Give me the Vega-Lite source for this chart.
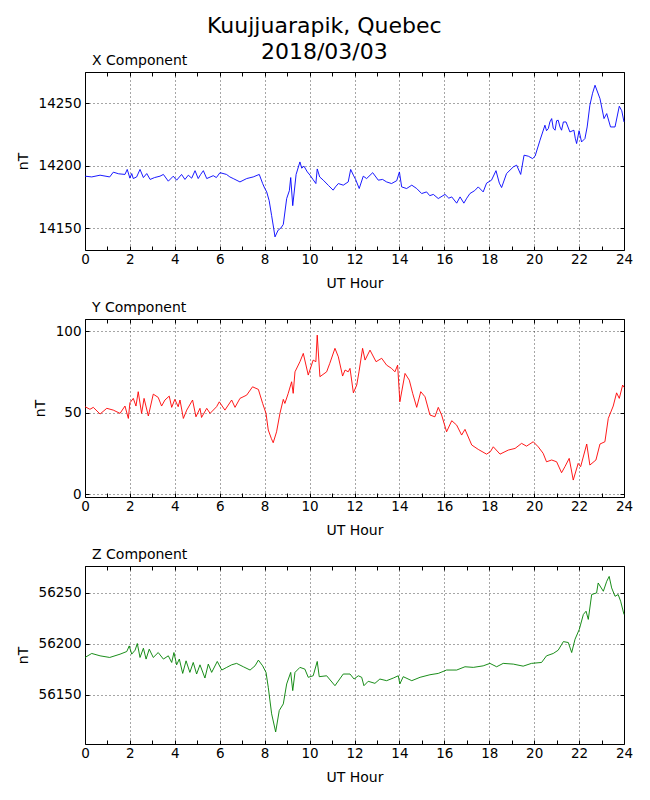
{
  "$schema": "https://vega.github.io/schema/vega-lite/v6.json",
  "padding": {"left": 15, "top": 15, "right": 10, "bottom": 5},
  "title": {
    "text": ["Kuujjuarapik, Quebec", "2018/03/03"],
    "fontSize": 22,
    "lineHeight": 26,
    "fontWeight": "normal",
    "anchor": "middle",
    "offset": -11
  },
  "datasets": {
    "xc": [
      {"h": 0.0, "v": 14191.6}, {"h": 0.3, "v": 14191}, {"h": 0.67, "v": 14192.4}, {"h": 1.1, "v": 14191},
      {"h": 1.26, "v": 14194.8}, {"h": 1.5, "v": 14193.5}, {"h": 1.78, "v": 14193}, {"h": 1.88, "v": 14197},
      {"h": 2.0, "v": 14190}, {"h": 2.08, "v": 14193.7}, {"h": 2.15, "v": 14189.7}, {"h": 2.3, "v": 14191},
      {"h": 2.45, "v": 14197}, {"h": 2.6, "v": 14190.5}, {"h": 2.75, "v": 14193.7}, {"h": 2.9, "v": 14189},
      {"h": 3.1, "v": 14190.5}, {"h": 3.34, "v": 14191.6}, {"h": 3.49, "v": 14193}, {"h": 3.71, "v": 14187.6},
      {"h": 3.93, "v": 14191.6}, {"h": 4.08, "v": 14188.4}, {"h": 4.3, "v": 14193}, {"h": 4.45, "v": 14189},
      {"h": 4.6, "v": 14192.4}, {"h": 4.75, "v": 14190}, {"h": 4.9, "v": 14196}, {"h": 5.04, "v": 14189.7},
      {"h": 5.15, "v": 14193}, {"h": 5.27, "v": 14196}, {"h": 5.42, "v": 14189.7}, {"h": 5.71, "v": 14192},
      {"h": 5.85, "v": 14190.5}, {"h": 6.01, "v": 14194.4}, {"h": 6.3, "v": 14193}, {"h": 6.45, "v": 14191},
      {"h": 6.6, "v": 14189.7}, {"h": 6.9, "v": 14187}, {"h": 7.2, "v": 14189.7}, {"h": 7.49, "v": 14191},
      {"h": 7.76, "v": 14193}, {"h": 7.91, "v": 14185.7}, {"h": 8.0, "v": 14182}, {"h": 8.09, "v": 14179},
      {"h": 8.2, "v": 14172}, {"h": 8.31, "v": 14160}, {"h": 8.4, "v": 14150}, {"h": 8.46, "v": 14143},
      {"h": 8.6, "v": 14148.4}, {"h": 8.72, "v": 14150}, {"h": 8.83, "v": 14153}, {"h": 8.98, "v": 14173.7},
      {"h": 9.1, "v": 14180}, {"h": 9.16, "v": 14190.5}, {"h": 9.25, "v": 14168}, {"h": 9.4, "v": 14193},
      {"h": 9.57, "v": 14203}, {"h": 9.65, "v": 14198}, {"h": 9.75, "v": 14199.6}, {"h": 9.9, "v": 14195},
      {"h": 10.02, "v": 14192.4}, {"h": 10.15, "v": 14189}, {"h": 10.28, "v": 14185.7}, {"h": 10.34, "v": 14197.4},
      {"h": 10.45, "v": 14191}, {"h": 10.61, "v": 14188.4}, {"h": 10.85, "v": 14184}, {"h": 11.05, "v": 14180.4},
      {"h": 11.15, "v": 14183}, {"h": 11.28, "v": 14185.7}, {"h": 11.5, "v": 14184.4}, {"h": 11.72, "v": 14187},
      {"h": 11.83, "v": 14197}, {"h": 11.95, "v": 14192.4}, {"h": 12.05, "v": 14189}, {"h": 12.21, "v": 14181.7},
      {"h": 12.39, "v": 14191.6}, {"h": 12.54, "v": 14189.7}, {"h": 12.81, "v": 14194.4}, {"h": 13.06, "v": 14188.4},
      {"h": 13.25, "v": 14189}, {"h": 13.43, "v": 14187}, {"h": 13.65, "v": 14185.7}, {"h": 13.88, "v": 14188},
      {"h": 14.0, "v": 14195}, {"h": 14.1, "v": 14183}, {"h": 14.32, "v": 14181.7}, {"h": 14.55, "v": 14184.4},
      {"h": 14.77, "v": 14181.7}, {"h": 14.99, "v": 14177.7}, {"h": 15.21, "v": 14179}, {"h": 15.35, "v": 14176},
      {"h": 15.51, "v": 14177}, {"h": 15.73, "v": 14173.7}, {"h": 16.03, "v": 14177}, {"h": 16.2, "v": 14174},
      {"h": 16.33, "v": 14175}, {"h": 16.55, "v": 14170}, {"h": 16.7, "v": 14175}, {"h": 16.87, "v": 14170},
      {"h": 17.0, "v": 14174}, {"h": 17.14, "v": 14177.7}, {"h": 17.35, "v": 14180}, {"h": 17.51, "v": 14183},
      {"h": 17.73, "v": 14179}, {"h": 17.88, "v": 14186}, {"h": 18.1, "v": 14188.4}, {"h": 18.3, "v": 14196},
      {"h": 18.45, "v": 14186}, {"h": 18.55, "v": 14182.5}, {"h": 18.77, "v": 14193.7}, {"h": 19.07, "v": 14199},
      {"h": 19.22, "v": 14200.4}, {"h": 19.4, "v": 14193}, {"h": 19.55, "v": 14208.4}, {"h": 19.74, "v": 14207.6},
      {"h": 19.93, "v": 14205.7}, {"h": 20.04, "v": 14207.6}, {"h": 20.26, "v": 14220.4}, {"h": 20.48, "v": 14232.4},
      {"h": 20.55, "v": 14228}, {"h": 20.63, "v": 14229.7}, {"h": 20.7, "v": 14235}, {"h": 20.78, "v": 14237.7},
      {"h": 20.85, "v": 14230}, {"h": 20.93, "v": 14228.4}, {"h": 21.0, "v": 14236}, {"h": 21.07, "v": 14236.4},
      {"h": 21.15, "v": 14231}, {"h": 21.22, "v": 14228.4}, {"h": 21.3, "v": 14235}, {"h": 21.42, "v": 14235},
      {"h": 21.59, "v": 14227}, {"h": 21.77, "v": 14228.4}, {"h": 21.83, "v": 14222}, {"h": 21.89, "v": 14217.7},
      {"h": 22.0, "v": 14228}, {"h": 22.11, "v": 14219}, {"h": 22.26, "v": 14221.7}, {"h": 22.36, "v": 14231},
      {"h": 22.48, "v": 14248.4}, {"h": 22.6, "v": 14258}, {"h": 22.71, "v": 14264.4}, {"h": 22.93, "v": 14253.7},
      {"h": 23.11, "v": 14237.7}, {"h": 23.23, "v": 14241.7}, {"h": 23.4, "v": 14231}, {"h": 23.6, "v": 14231},
      {"h": 23.79, "v": 14247.6}, {"h": 23.9, "v": 14244}, {"h": 24.0, "v": 14235}
    ],
    "yc": [
      {"h": 0.0, "v": 53.6}, {"h": 0.22, "v": 52}, {"h": 0.37, "v": 53.2}, {"h": 0.67, "v": 49.1},
      {"h": 0.97, "v": 52.6}, {"h": 1.26, "v": 51.5}, {"h": 1.56, "v": 49.5}, {"h": 1.78, "v": 54},
      {"h": 1.93, "v": 46.4}, {"h": 2.0, "v": 56}, {"h": 2.15, "v": 58.7}, {"h": 2.27, "v": 54},
      {"h": 2.37, "v": 62.8}, {"h": 2.52, "v": 49.5}, {"h": 2.63, "v": 58.7}, {"h": 2.82, "v": 47.9},
      {"h": 3.04, "v": 61.3}, {"h": 3.26, "v": 59.3}, {"h": 3.41, "v": 54}, {"h": 3.56, "v": 57.7},
      {"h": 3.75, "v": 60.1}, {"h": 3.86, "v": 53.2}, {"h": 4.0, "v": 58.1}, {"h": 4.15, "v": 53.6},
      {"h": 4.23, "v": 57.7}, {"h": 4.38, "v": 46.4}, {"h": 4.53, "v": 51.5}, {"h": 4.79, "v": 57.7},
      {"h": 4.94, "v": 47.4}, {"h": 5.12, "v": 52.6}, {"h": 5.19, "v": 47}, {"h": 5.42, "v": 52.6},
      {"h": 5.57, "v": 49.5}, {"h": 5.86, "v": 53.6}, {"h": 5.98, "v": 56.6}, {"h": 6.23, "v": 51.5},
      {"h": 6.53, "v": 57.7}, {"h": 6.68, "v": 53.2}, {"h": 6.9, "v": 58.7}, {"h": 7.2, "v": 60.7},
      {"h": 7.46, "v": 65.8}, {"h": 7.72, "v": 64.2}, {"h": 7.91, "v": 55.6}, {"h": 8.06, "v": 49.5},
      {"h": 8.16, "v": 39.3}, {"h": 8.3, "v": 34}, {"h": 8.38, "v": 31.5}, {"h": 8.53, "v": 38.2},
      {"h": 8.68, "v": 49.5}, {"h": 8.83, "v": 58.1}, {"h": 8.9, "v": 55.6}, {"h": 9.05, "v": 61.8},
      {"h": 9.2, "v": 68.9}, {"h": 9.27, "v": 61.8}, {"h": 9.35, "v": 75}, {"h": 9.57, "v": 81.2},
      {"h": 9.72, "v": 86.3}, {"h": 9.94, "v": 73}, {"h": 10.16, "v": 82.2}, {"h": 10.28, "v": 81.2},
      {"h": 10.34, "v": 97.5}, {"h": 10.46, "v": 72}, {"h": 10.76, "v": 75}, {"h": 10.9, "v": 80.2},
      {"h": 11.13, "v": 89.4}, {"h": 11.28, "v": 84.2}, {"h": 11.47, "v": 72.4}, {"h": 11.58, "v": 76.1},
      {"h": 11.72, "v": 75}, {"h": 11.8, "v": 77.1}, {"h": 11.95, "v": 62.1}, {"h": 12.1, "v": 66.9},
      {"h": 12.2, "v": 75}, {"h": 12.36, "v": 89.4}, {"h": 12.47, "v": 82.2}, {"h": 12.69, "v": 88.3},
      {"h": 12.96, "v": 81.2}, {"h": 13.21, "v": 83.3}, {"h": 13.43, "v": 79.1}, {"h": 13.65, "v": 77.1},
      {"h": 13.8, "v": 75}, {"h": 13.92, "v": 79.1}, {"h": 14.02, "v": 56.6}, {"h": 14.25, "v": 74},
      {"h": 14.44, "v": 69.9}, {"h": 14.59, "v": 61.8}, {"h": 14.77, "v": 53.2}, {"h": 14.95, "v": 62.8},
      {"h": 15.14, "v": 59.7}, {"h": 15.36, "v": 48.5}, {"h": 15.58, "v": 47.4}, {"h": 15.73, "v": 53.2},
      {"h": 15.88, "v": 48.5}, {"h": 16.1, "v": 38.2}, {"h": 16.33, "v": 45}, {"h": 16.55, "v": 42.3},
      {"h": 16.77, "v": 36.2}, {"h": 16.92, "v": 39.7}, {"h": 17.22, "v": 30.1}, {"h": 17.51, "v": 27.4},
      {"h": 17.88, "v": 24.5}, {"h": 18.05, "v": 26}, {"h": 18.18, "v": 29}, {"h": 18.48, "v": 24.5},
      {"h": 18.85, "v": 27}, {"h": 19.15, "v": 28}, {"h": 19.44, "v": 31.1}, {"h": 19.66, "v": 29.4},
      {"h": 19.96, "v": 32.1}, {"h": 20.18, "v": 29}, {"h": 20.4, "v": 25}, {"h": 20.55, "v": 19.8},
      {"h": 20.78, "v": 20.9}, {"h": 21.0, "v": 19.8}, {"h": 21.22, "v": 13.1}, {"h": 21.37, "v": 16.8},
      {"h": 21.56, "v": 21.9}, {"h": 21.74, "v": 8.6}, {"h": 21.96, "v": 18.8}, {"h": 22.07, "v": 16.8},
      {"h": 22.34, "v": 30.7}, {"h": 22.48, "v": 17.8}, {"h": 22.75, "v": 20.9}, {"h": 22.93, "v": 30.7},
      {"h": 23.15, "v": 32.1}, {"h": 23.3, "v": 46.4}, {"h": 23.52, "v": 54}, {"h": 23.67, "v": 62.1},
      {"h": 23.79, "v": 58.7}, {"h": 23.94, "v": 66.9}, {"h": 24.0, "v": 65.5}
    ],
    "zc": [
      {"h": 0.0, "v": 56186.6}, {"h": 0.3, "v": 56190.5}, {"h": 0.67, "v": 56188.2}, {"h": 1.1, "v": 56186.6},
      {"h": 1.56, "v": 56189.8}, {"h": 1.86, "v": 56192.4}, {"h": 1.97, "v": 56197.9}, {"h": 2.08, "v": 56189.8},
      {"h": 2.23, "v": 56193.7}, {"h": 2.33, "v": 56200.2}, {"h": 2.45, "v": 56186.6}, {"h": 2.6, "v": 56195.6},
      {"h": 2.72, "v": 56185}, {"h": 2.86, "v": 56194.7}, {"h": 3.04, "v": 56186.6}, {"h": 3.26, "v": 56191.4},
      {"h": 3.49, "v": 56185}, {"h": 3.71, "v": 56188.2}, {"h": 3.86, "v": 56181.7}, {"h": 3.96, "v": 56191.4},
      {"h": 4.08, "v": 56179.4}, {"h": 4.2, "v": 56185}, {"h": 4.35, "v": 56171}, {"h": 4.5, "v": 56183.3},
      {"h": 4.67, "v": 56172}, {"h": 4.82, "v": 56181.7}, {"h": 4.97, "v": 56170.4}, {"h": 5.12, "v": 56179.4},
      {"h": 5.34, "v": 56166.5}, {"h": 5.49, "v": 56180.1}, {"h": 5.64, "v": 56172}, {"h": 5.89, "v": 56182.7},
      {"h": 6.09, "v": 56174.3}, {"h": 6.31, "v": 56176.9}, {"h": 6.53, "v": 56179.4}, {"h": 6.75, "v": 56180.8},
      {"h": 7.05, "v": 56177.5}, {"h": 7.35, "v": 56174.3}, {"h": 7.57, "v": 56178.4}, {"h": 7.72, "v": 56184},
      {"h": 7.91, "v": 56178.4}, {"h": 8.06, "v": 56172}, {"h": 8.16, "v": 56157.5}, {"h": 8.31, "v": 56131.5},
      {"h": 8.49, "v": 56113.8}, {"h": 8.65, "v": 56134.7}, {"h": 8.83, "v": 56141.2}, {"h": 8.98, "v": 56160.7},
      {"h": 9.16, "v": 56172}, {"h": 9.25, "v": 56154.2}, {"h": 9.35, "v": 56172}, {"h": 9.57, "v": 56176.9},
      {"h": 9.79, "v": 56175.2}, {"h": 9.94, "v": 56167.2}, {"h": 10.16, "v": 56168.7}, {"h": 10.34, "v": 56182.7},
      {"h": 10.43, "v": 56167.8}, {"h": 10.76, "v": 56168.7}, {"h": 11.13, "v": 56159}, {"h": 11.5, "v": 56170.4},
      {"h": 11.8, "v": 56170.4}, {"h": 11.98, "v": 56165.5}, {"h": 12.17, "v": 56168.7}, {"h": 12.32, "v": 56167.2},
      {"h": 12.42, "v": 56159}, {"h": 12.61, "v": 56163.3}, {"h": 12.91, "v": 56161.3}, {"h": 13.13, "v": 56165.5},
      {"h": 13.43, "v": 56163.9}, {"h": 13.73, "v": 56166.5}, {"h": 13.95, "v": 56168.7}, {"h": 14.02, "v": 56160.7},
      {"h": 14.17, "v": 56167.8}, {"h": 14.55, "v": 56163.9}, {"h": 14.92, "v": 56167.2}, {"h": 15.36, "v": 56169.7},
      {"h": 15.73, "v": 56171}, {"h": 16.1, "v": 56174.3}, {"h": 16.55, "v": 56174.3}, {"h": 16.92, "v": 56177.5},
      {"h": 17.29, "v": 56176.9}, {"h": 17.73, "v": 56178.4}, {"h": 18.03, "v": 56180.8}, {"h": 18.33, "v": 56177.5},
      {"h": 18.62, "v": 56180.8}, {"h": 19.07, "v": 56180.1}, {"h": 19.51, "v": 56178.1}, {"h": 19.88, "v": 56180.8},
      {"h": 20.33, "v": 56181.7}, {"h": 20.55, "v": 56188.2}, {"h": 20.85, "v": 56190.5}, {"h": 21.07, "v": 56193.7},
      {"h": 21.3, "v": 56202.1}, {"h": 21.52, "v": 56201.2}, {"h": 21.67, "v": 56191.4}, {"h": 21.82, "v": 56204.4},
      {"h": 22.01, "v": 56214.1}, {"h": 22.19, "v": 56228.6}, {"h": 22.31, "v": 56231.8}, {"h": 22.41, "v": 56223.8},
      {"h": 22.56, "v": 56248.1}, {"h": 22.78, "v": 56249.7}, {"h": 22.85, "v": 56259.4}, {"h": 23.08, "v": 56251.3},
      {"h": 23.23, "v": 56261}, {"h": 23.34, "v": 56265.8}, {"h": 23.45, "v": 56254.6}, {"h": 23.6, "v": 56246.4},
      {"h": 23.74, "v": 56248.1}, {"h": 23.85, "v": 56241.6}, {"h": 24.0, "v": 56228.6}
    ]
  },
  "spacing": 9,
  "vconcat": [
    {
      "width": 539,
      "height": 178,
      "title": {"text": "X Component", "anchor": "start", "frame": "group", "dx": 7, "offset": 4, "fontSize": 14, "fontWeight": "normal"},
      "data": {"name": "xc"},
      "layer": [
        {
          "mark": {"type": "line", "color": "#0000ff", "strokeWidth": 0.9},
          "encoding": {
            "x": {"field": "h", "type": "quantitative", "scale": {"domain": [0, 24], "nice": false},
              "axis": {"orient": "bottom", "title": "UT Hour", "values": [0,1,2,3,4,5,6,7,8,9,10,11,12,13,14,15,16,17,18,19,20,21,22,23,24],
                "format": "d",
                "labelExpr": "datum.value % 2 == 0 ? datum.label : ''",
                "gridOpacity": {"condition": {"test": "datum.value % 2 == 0", "value": 1}, "value": 0}}},
            "y": {"field": "v", "type": "quantitative", "scale": {"domain": [14132.5, 14275], "nice": false, "zero": false},
              "axis": {"orient": "left", "title": "nT", "format": "d", "values": [14150, 14200, 14250]}}
          }
        },
        {
          "mark": {"type": "line", "strokeOpacity": 0},
          "encoding": {
            "x": {"field": "h", "type": "quantitative",
              "axis": {"orient": "top", "title": null, "labels": false, "grid": false, "values": [0,1,2,3,4,5,6,7,8,9,10,11,12,13,14,15,16,17,18,19,20,21,22,23,24]}},
            "y": {"field": "v", "type": "quantitative",
              "axis": {"orient": "right", "title": null, "labels": false, "grid": false, "values": [14150, 14200, 14250]}}
          }
        }
      ],
      "resolve": {"axis": {"x": "independent", "y": "independent"}}
    },
    {
      "width": 539,
      "height": 178,
      "title": {"text": "Y Component", "anchor": "start", "frame": "group", "dx": 7, "offset": 4, "fontSize": 14, "fontWeight": "normal"},
      "data": {"name": "yc"},
      "layer": [
        {
          "mark": {"type": "line", "color": "#ff0000", "strokeWidth": 0.9},
          "encoding": {
            "x": {"field": "h", "type": "quantitative", "scale": {"domain": [0, 24], "nice": false},
              "axis": {"orient": "bottom", "title": "UT Hour", "values": [0,1,2,3,4,5,6,7,8,9,10,11,12,13,14,15,16,17,18,19,20,21,22,23,24],
                "format": "d",
                "labelExpr": "datum.value % 2 == 0 ? datum.label : ''",
                "gridOpacity": {"condition": {"test": "datum.value % 2 == 0", "value": 1}, "value": 0}}},
            "y": {"field": "v", "type": "quantitative", "scale": {"domain": [-1.8, 107.4], "nice": false, "zero": false},
              "axis": {"orient": "left", "title": "nT", "format": "d", "values": [0, 50, 100]}}
          }
        },
        {
          "mark": {"type": "line", "strokeOpacity": 0},
          "encoding": {
            "x": {"field": "h", "type": "quantitative",
              "axis": {"orient": "top", "title": null, "labels": false, "grid": false, "values": [0,1,2,3,4,5,6,7,8,9,10,11,12,13,14,15,16,17,18,19,20,21,22,23,24]}},
            "y": {"field": "v", "type": "quantitative",
              "axis": {"orient": "right", "title": null, "labels": false, "grid": false, "values": [0, 50, 100]}}
          }
        }
      ],
      "resolve": {"axis": {"x": "independent", "y": "independent"}}
    },
    {
      "width": 539,
      "height": 178,
      "title": {"text": "Z Component", "anchor": "start", "frame": "group", "dx": 7, "offset": 4, "fontSize": 14, "fontWeight": "normal"},
      "data": {"name": "zc"},
      "layer": [
        {
          "mark": {"type": "line", "color": "#008000", "strokeWidth": 0.9},
          "encoding": {
            "x": {"field": "h", "type": "quantitative", "scale": {"domain": [0, 24], "nice": false},
              "axis": {"orient": "bottom", "title": "UT Hour", "values": [0,1,2,3,4,5,6,7,8,9,10,11,12,13,14,15,16,17,18,19,20,21,22,23,24],
                "format": "d",
                "labelExpr": "datum.value % 2 == 0 ? datum.label : ''",
                "gridOpacity": {"condition": {"test": "datum.value % 2 == 0", "value": 1}, "value": 0}}},
            "y": {"field": "v", "type": "quantitative", "scale": {"domain": [56102, 56276], "nice": false, "zero": false},
              "axis": {"orient": "left", "title": "nT", "format": "d", "values": [56150, 56200, 56250]}}
          }
        },
        {
          "mark": {"type": "line", "strokeOpacity": 0},
          "encoding": {
            "x": {"field": "h", "type": "quantitative",
              "axis": {"orient": "top", "title": null, "labels": false, "grid": false, "values": [0,1,2,3,4,5,6,7,8,9,10,11,12,13,14,15,16,17,18,19,20,21,22,23,24]}},
            "y": {"field": "v", "type": "quantitative",
              "axis": {"orient": "right", "title": null, "labels": false, "grid": false, "values": [56150, 56200, 56250]}}
          }
        }
      ],
      "resolve": {"axis": {"x": "independent", "y": "independent"}}
    }
  ],
  "config": {
    "font": "DejaVu Sans",
    "background": "white",
    "view": {"stroke": "black", "strokeWidth": 1},
    "title": {"color": "black", "font": "DejaVu Sans"},
    "axis": {
      "domain": false,
      "labelFont": "DejaVu Sans",
      "labelFontSize": 13.5,
      "labelColor": "black",
      "labelOverlap": false,
      "labelFlush": false,
      "titleFont": "DejaVu Sans",
      "titleFontSize": 14,
      "titleFontWeight": "normal",
      "titleColor": "black",
      "tickColor": "black",
      "tickSize": -4,
      "tickWidth": 1,
      "labelPadding": 8,
      "grid": true,
      "gridColor": "black",
      "gridWidth": 0.7,
      "gridDash": [1, 3]
    },
    "axisLeft": {"titlePadding": 8},
    "axisBottom": {"titlePadding": 11, "labelPadding": 6}
  }
}
